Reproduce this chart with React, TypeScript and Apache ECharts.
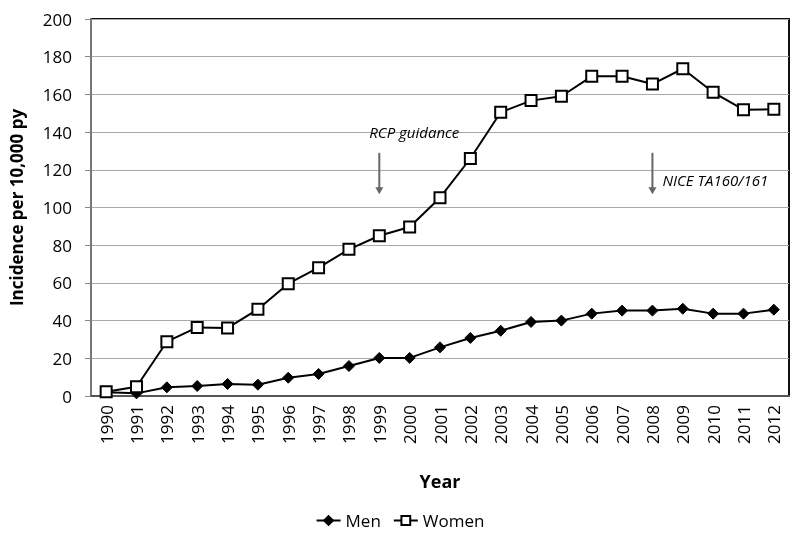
import React, { useEffect, useRef } from "react";
import * as echarts from "echarts";

const years = ["1990","1991","1992","1993","1994","1995","1996","1997","1998","1999","2000","2001","2002","2003","2004","2005","2006","2007","2008","2009","2010","2011","2012"];
const men = [2.0, 1.4, 4.6, 5.3, 6.4, 6.0, 9.7, 11.7, 15.9, 20.2, 20.2, 25.8, 30.8, 34.6, 39.3, 40.0, 43.7, 45.3, 45.3, 46.3, 43.7, 43.7, 45.8];
const women = [2.3, 4.9, 28.8, 36.4, 36.1, 46.0, 59.6, 68.1, 77.8, 85.0, 89.7, 105.2, 126.0, 150.5, 156.7, 159.0, 169.6, 169.6, 165.5, 173.6, 161.1, 151.9, 152.1];
const annotations = [
  { text: "RCP guidance", year: "1999", textValue: 140, arrowTop: 129, arrowBottom: 107, textAlign: "center" },
  { text: "NICE TA160/161", year: "2008", textValue: 114.6, arrowTop: 129, arrowBottom: 107, textAlign: "left" },
];

const FONT = "'Open Sans', sans-serif";

export default function App() {
  const ref = useRef<HTMLDivElement>(null);
  useEffect(() => {
    const chart = echarts.init(ref.current!, null, { renderer: "svg" });
    chart.setOption({
      animation: false,
      textStyle: { fontFamily: FONT },
      grid: { left: 89, right: 11, top: 19, bottom: 144, show: true, borderColor: "#111", borderWidth: 2 },
      legend: {
        bottom: 6,
        left: "center",
        itemWidth: 24,
        itemHeight: 11,
        itemGap: 12,
        textStyle: { fontSize: 17, color: "#000", fontFamily: FONT },
        data: ["Men", "Women"],
      },
      xAxis: {
        type: "category",
        data: years,
        boundaryGap: true,
        name: "Year",
        nameLocation: "middle",
        nameGap: 76,
        nameTextStyle: { fontSize: 18, fontWeight: "bold", color: "#000", fontFamily: FONT },
        axisLine: { lineStyle: { color: "#555", width: 2 } },
        axisTick: { show: false },
        axisLabel: { rotate: 90, fontSize: 17, color: "#000", margin: 9, fontFamily: FONT },
      },
      yAxis: {
        type: "value",
        min: 0,
        max: 200,
        interval: 20,
        name: "Incidence per 10,000 py",
        nameLocation: "middle",
        nameGap: 66,
        nameTextStyle: { fontSize: 17, fontWeight: "bold", color: "#000", fontFamily: FONT },
        axisLine: { show: true, lineStyle: { color: "#777", width: 2 } },
        axisTick: { show: true, length: 6, lineStyle: { color: "#888" } },
        axisLabel: { fontSize: 17, color: "#000", margin: 19, fontFamily: FONT },
        splitLine: { show: true, lineStyle: { color: "#a8a8a8", width: 1 } },
      },
      series: [
        {
          name: "Men",
          type: "line",
          data: men,
          symbol: "diamond",
          symbolSize: 11,
          lineStyle: { color: "#000", width: 2 },
          itemStyle: { color: "#000", borderColor: "#000", borderWidth: 1 },
          z: 2,
        },
        {
          name: "Women",
          type: "line",
          data: women,
          symbol: "rect",
          symbolSize: 11,
          showAllSymbol: true,
          lineStyle: { color: "#000", width: 2 },
          itemStyle: { color: "#fff", borderColor: "#000", borderWidth: 2 },
          z: 3,
        },
      ],
    });

    const elements: any[] = [];
    annotations.forEach((a) => {
      const top = chart.convertToPixel({ gridIndex: 0 }, [a.year, a.arrowTop]);
      const bottom = chart.convertToPixel({ gridIndex: 0 }, [a.year, a.arrowBottom]);
      const tp = chart.convertToPixel({ gridIndex: 0 }, [a.year, a.textValue]);
      elements.push({
        type: "line",
        shape: { x1: top[0], y1: top[1], x2: bottom[0], y2: bottom[1] - 5 },
        style: { stroke: "#666", lineWidth: 2 },
        z: 10,
      });
      elements.push({
        type: "polygon",
        shape: { points: [[bottom[0] - 4, bottom[1] - 7], [bottom[0] + 4, bottom[1] - 7], [bottom[0], bottom[1]]] },
        style: { fill: "#666" },
        z: 10,
      });
      elements.push({
        type: "text",
        x: a.textAlign === "center" ? tp[0] + 35 : tp[0] + 10,
        y: tp[1],
        style: {
          text: a.text,
          fontSize: 15,
          fontStyle: "italic",
          fontFamily: FONT,
          fill: "#000",
          align: a.textAlign,
          verticalAlign: "middle",
        },
        z: 10,
      });
    });
    chart.setOption({ graphic: elements });

    return () => chart.dispose();
  }, []);
  return <div ref={ref} style={{ position: "fixed", left: 0, top: 0, width: 800, height: 540 }} />;
}
